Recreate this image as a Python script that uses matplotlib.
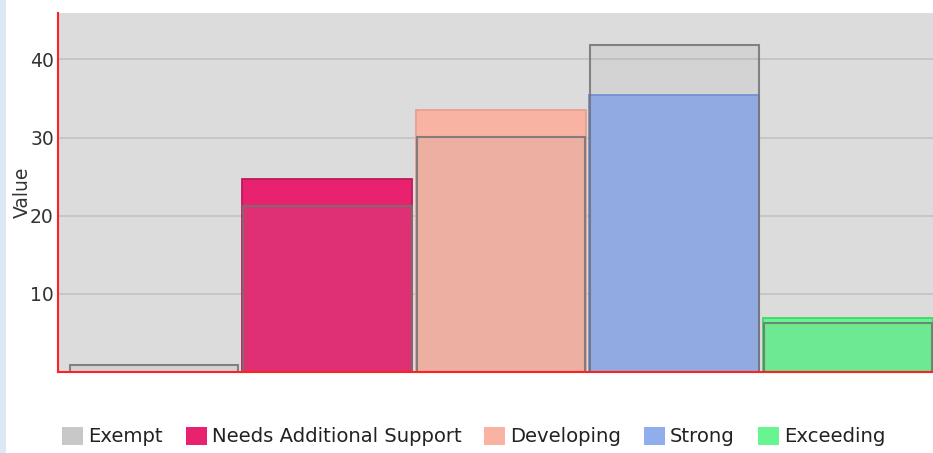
import matplotlib
matplotlib.use("Agg")
import matplotlib.pyplot as plt
from matplotlib.patches import Patch, Rectangle
import numpy as np

categories = ["Exempt", "Needs Additional Support", "Developing", "Strong", "Exceeding"]
series_values = [0.0, 24.7, 33.5, 35.5, 6.9]
overlay_values = [0.9, 21.2, 30.1, 41.8, 6.3]
yticks = [10, 20, 30, 40]

colors = ["#c8c8c8", "#e8226e", "#f9b3a3", "#91aeec", "#66f590"]
edge_colors = ["#a8a8a8", "#c0185a", "#e8a090", "#7090d8", "#3cd86a"]

W, H = 933, 453
fig = plt.figure(figsize=(W / 100, H / 100), dpi=100)
fig.patch.set_facecolor("white")
fig.patches.append(Rectangle((0, 0), 6 / W, 1, transform=fig.transFigure,
                             facecolor="#dde8f7", edgecolor="none", zorder=0))

ax = fig.add_axes([58 / W, 1 - 372 / H, 1 - 58 / W, (372 - 13.3) / H])
ax.set_facecolor("#dcdcdc")

x = np.arange(len(categories))
ax.bar(x, series_values, width=0.98, color=colors, edgecolor=edge_colors,
       linewidth=1.3, zorder=2)
ax.bar(x, overlay_values, width=0.97, color=(0.6, 0.6, 0.6, 0.12),
       edgecolor=(0.45, 0.45, 0.45, 0.85), linewidth=1.5, zorder=3)

ax.set_xlim(-0.553, 4.49)
ax.set_ylim(0, 45.9)
ax.set_yticks(yticks)
ax.set_xticks([])
ax.tick_params(axis="y", length=0, pad=3, labelsize=13.5, labelcolor="#333333")
ax.yaxis.grid(True, color="#c2c2c2", linewidth=1.2, zorder=1)
ax.set_axisbelow(True)
ax.set_ylabel("Value", fontsize=13.5, color="#333333", labelpad=-1.5)

for s in ["top", "right"]:
    ax.spines[s].set_visible(False)
for s in ["left", "bottom"]:
    ax.spines[s].set_color("#ff2020")
    ax.spines[s].set_linewidth(1.5)
    ax.spines[s].set_zorder(5)

handles = [Patch(facecolor=c, edgecolor="none", label=l) for c, l in zip(colors, categories)]
fs = 14.1
leg = fig.legend(handles=handles, loc="center left",
                 bbox_to_anchor=(62 / W, 1 - 436.5 / H), ncol=5, frameon=False,
                 fontsize=fs, handlelength=1.07, handleheight=1.07,
                 handletextpad=0.26, columnspacing=1.17, borderpad=0,
                 borderaxespad=0)
for t in leg.get_texts():
    t.set_color("#222222")

fig.savefig("out.png", dpi=100)
